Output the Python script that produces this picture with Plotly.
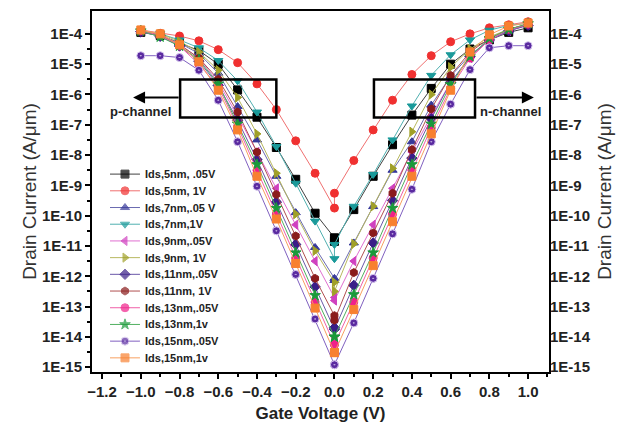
import plotly.graph_objects as go

# Gate voltage: negative sweep (-1.0 .. 0.0) then positive sweep (0.0 .. 1.0)
vg = [-1.0, -0.9, -0.8, -0.7, -0.6, -0.5, -0.4, -0.3, -0.2, -0.1, 0.0,
      0.0, 0.1, 0.2, 0.3, 0.4, 0.5, 0.6, 0.7, 0.8, 0.9, 1.0]

# log10 of drain current (A/um)
ids_5nm_005 = [-3.95, -4.05, -4.3, -4.55, -5.0, -5.85, -6.75, -7.75, -8.8, -9.92, -10.73,
               -10.85, -9.8, -8.7, -7.66, -6.68, -5.8, -5.0, -4.5, -4.2, -3.95, -3.8]
ids_5nm_1 = [-3.87, -3.98, -4.07, -4.23, -4.52, -4.95, -5.65, -6.5, -7.53, -8.6, -9.75,
             -9.26, -8.18, -7.17, -6.19, -5.34, -4.72, -4.26, -4.0, -3.8, -3.7, -3.6]
ids_7nm_005 = [-3.92, -4.05, -4.3, -4.65, -5.3, -6.4, -7.5, -8.7, -9.9, -11.05, -12.07,
               -12.14, -10.9, -9.7, -8.5, -7.56, -6.35, -5.4, -4.7, -4.2, -3.9, -3.7]
ids_7nm_1 = [-3.9, -4.0, -4.2, -4.46, -4.88, -5.55, -6.58, -7.72, -8.93, -10.18, -11.42,
             -10.95, -9.69, -8.64, -7.5, -6.38, -5.37, -4.69, -4.2, -3.88, -3.72, -3.65]
ids_9nm_005 = [-3.92, -4.05, -4.35, -4.8, -5.6, -6.7, -7.9, -9.1, -10.3, -11.5, -12.7,
               -12.8, -11.5, -10.3, -9.1, -7.9, -6.7, -5.6, -4.8, -4.2, -3.9, -3.7]
ids_9nm_1 = [-3.9, -4.0, -4.25, -4.6, -5.2, -6.1, -7.3, -8.6, -9.95, -11.16, -12.2,
             -12.5, -10.93, -9.69, -8.44, -7.23, -6.0, -5.1, -4.5, -4.1, -3.85, -3.68]
ids_11nm_005 = [-3.93, -4.08, -4.4, -4.9, -5.7, -6.85, -8.15, -9.55, -10.95, -12.35, -13.7,
                -13.75, -12.3, -10.9, -9.5, -8.1, -6.8, -5.6, -4.75, -4.2, -3.9, -3.72]
ids_11nm_1 = [-3.9, -4.05, -4.35, -4.8, -5.5, -6.58, -7.9, -9.3, -10.67, -12.07, -13.3,
              -13.45, -11.88, -10.57, -9.26, -7.82, -6.48, -5.37, -4.6, -4.15, -3.85, -3.68]
ids_13nm_005 = [-3.9, -4.05, -4.4, -5.0, -5.75, -7.05, -8.5, -9.95, -11.4, -12.85, -14.25,
                -14.25, -12.85, -11.4, -9.95, -8.5, -7.1, -5.8, -4.8, -4.2, -3.85, -3.68]
ids_13nm_1 = [-3.9, -4.1, -4.4, -4.85, -5.65, -6.97, -8.31, -9.75, -11.22, -12.63, -14.0,
              -14.0, -12.6, -11.22, -9.75, -8.31, -6.97, -5.67, -4.75, -4.15, -3.85, -3.66]
ids_15nm_005 = [-4.72, -4.72, -4.78, -5.2, -6.19, -7.56, -9.03, -10.5, -11.94, -13.41, -14.92,
                -14.92, -13.54, -12.07, -10.6, -9.13, -7.56, -6.32, -5.18, -4.46, -4.39, -4.39]
ids_15nm_1 = [-3.87, -4.0, -4.36, -4.92, -5.86, -7.17, -8.7, -10.11, -11.58, -13.05, -14.52,
              -14.52, -13.1, -11.65, -10.2, -8.7, -7.3, -5.86, -4.6, -4.03, -3.74, -3.64]

series_names = ["Ids,5nm, .05V", "Ids,5nm, 1V", "Ids,7nm,.05 V", "Ids,7nm,1V",
                "Ids,9nm,.05V", "Ids,9nm, 1V", "Ids,11nm,.05V", "Ids,11nm, 1V",
                "Ids,13nm,.05V", "Ids,13nm,1v", "Ids,15nm,.05V", "Ids,15nm,1v"]
series_logs = [ids_5nm_005, ids_5nm_1, ids_7nm_005, ids_7nm_1, ids_9nm_005, ids_9nm_1,
               ids_11nm_005, ids_11nm_1, ids_13nm_005, ids_13nm_1, ids_15nm_005, ids_15nm_1]

ytick_vals = [1e-4, 1e-5, 1e-6, 1e-7, 1e-8, 1e-9, 1e-10, 1e-11, 1e-12, 1e-13, 1e-14, 1e-15]
ytick_text = ["1E-4", "1E-5", "1E-6", "1E-7", "1E-8", "1E-9", "1E-10", "1E-11",
              "1E-12", "1E-13", "1E-14", "1E-15"]

marker_colors = ["#000000", "#f03030", "#36389a", "#1a9a9a", "#d040c0", "#a0a028",
                 "#3a1e88", "#8a1c1c", "#f0208a", "#1a9a3a", "#5a2aa0", "#f88030"]
line_colors = ["#404040", "#f07070", "#6a6ab0", "#50b0b0", "#e070d0", "#b8b860",
               "#6a58a8", "#b05050", "#f060a8", "#50b060", "#8060c0", "#f8a060"]
symbols = ["square", "circle", "triangle-up", "triangle-down", "triangle-left",
           "triangle-right", "diamond", "hexagon", "circle", "star", "circle-dot", "square"]

FONT = "Arial, Liberation Sans, sans-serif"


def marker_style(sym, mc, size):
    return dict(symbol=sym, size=size, color=mc,
                line=dict(color="#d8c8f0" if sym == "circle-dot" else mc, width=1))


fig = go.Figure()
for name, logs, mc, lc, sym in zip(series_names, series_logs, marker_colors, line_colors, symbols):
    fig.add_trace(go.Scatter(
        x=vg, y=[10 ** v for v in logs], name=name, mode="lines+markers",
        line=dict(color=lc, width=1), marker=marker_style(sym, mc, 8), showlegend=False,
    ))

# invisible copy for right-hand axis
fig.add_trace(go.Scatter(x=vg, y=[10 ** v for v in ids_5nm_1], yaxis="y2",
                         mode="lines", line=dict(width=0), showlegend=False,
                         hoverinfo="skip", opacity=0))

# compact legend (plotly's own legend rows are too tall for this figure)
for i, (name, mc, lc, sym) in enumerate(zip(series_names, marker_colors, line_colors, symbols)):
    fig.add_trace(go.Scatter(
        x=[0, 0.5, 1], y=[i, i, i], xaxis="x3", yaxis="y3", mode="lines+markers",
        line=dict(color=lc, width=1),
        marker=dict(symbol=sym, size=[0, 8, 0], color=mc,
                    line=dict(color="#d8c8f0" if sym == "circle-dot" else mc, width=1)),
        showlegend=False, hoverinfo="skip"))
    fig.add_annotation(x=0.1116, y=i, xref="paper", yref="y3", text=name, showarrow=False,
                       xanchor="left", yanchor="middle",
                       font=dict(family=FONT, size=11, color="#222222", weight="bold"))

minor_vals = [v * 10 ** -0.5 for v in ytick_vals[:-1]]

yrange = [-15.16, -3.245]
fig.update_layout(
    width=629, height=432,
    margin=dict(l=92, r=80, t=9, b=60),
    paper_bgcolor="white", plot_bgcolor="white",
    font=dict(family=FONT, color="#222222"),
    showlegend=False,
    xaxis=dict(range=[-1.252, 1.108], dtick=0.2, tick0=0, tickformat=".1f",
               showline=True, linecolor="black", linewidth=2, mirror=True,
               ticks="outside", ticklen=5, tickwidth=1.5, tickcolor="black",
               minor=dict(ticks="outside", ticklen=3, dtick=0.1, tickcolor="black"),
               showgrid=False, zeroline=False,
               tickfont=dict(family=FONT, size=15, color="#222222", weight="bold"),
               title=dict(text="Gate Voltage (V)", standoff=8,
                          font=dict(family=FONT, size=17, color="#222222", weight="bold"))),
    yaxis=dict(type="log", range=yrange, tickvals=ytick_vals, ticktext=ytick_text,
               showline=True, linecolor="black", linewidth=2, mirror=True,
               ticks="outside", ticklen=5, tickwidth=1.5, tickcolor="black",
               minor=dict(ticks="outside", ticklen=3, tickvals=minor_vals, tickcolor="black"),
               showgrid=False, zeroline=False,
               tickfont=dict(family=FONT, size=15, color="#222222", weight="bold"),
               title=dict(text="Drain Current (A/μm)", standoff=0,
                          font=dict(family=FONT, size=19, color="#333333"))),
    yaxis2=dict(type="log", range=yrange, tickvals=ytick_vals, ticktext=ytick_text,
                overlaying="y", side="right", showline=False, ticks="",
                showgrid=False, zeroline=False,
                tickfont=dict(family=FONT, size=15, color="#222222", weight="bold"),
                title=dict(text="Drain Current (A/μm)", standoff=8,
                           font=dict(family=FONT, size=19, color="#333333"))),
    xaxis3=dict(domain=[0.0394, 0.1050], range=[0, 1], visible=False, anchor="y3"),
    yaxis3=dict(domain=[0.01653, 0.5702], range=[11.49, -0.476], visible=False, anchor="x3"),
)

# boxes marking p- and n-channel regions
for x0, x1 in [(-0.797, -0.30), (0.204, 0.726)]:
    fig.add_shape(type="rect", xref="x", yref="y", x0=x0, x1=x1,
                  y0=10 ** -5.51, y1=10 ** -6.76, line=dict(color="black", width=2.5))

# arrows
fig.add_annotation(x=-1.04, y=-6.10, ax=-0.797, ay=-6.10, xref="x", yref="y",
                   axref="x", ayref="y", showarrow=True, arrowhead=2, arrowsize=1.2,
                   arrowwidth=2, arrowcolor="black", text="")
fig.add_annotation(x=1.03, y=-6.10, ax=0.726, ay=-6.10, xref="x", yref="y",
                   axref="x", ayref="y", showarrow=True, arrowhead=2, arrowsize=1.2,
                   arrowwidth=2, arrowcolor="black", text="")
fig.add_annotation(x=-1.0, y=-6.56, xref="x", yref="y", text="p-channel", showarrow=False,
                   font=dict(family=FONT, size=13, color="#222222", weight="bold"))
fig.add_annotation(x=0.91, y=-6.56, xref="x", yref="y", text="n-channel", showarrow=False,
                   font=dict(family=FONT, size=13, color="#222222", weight="bold"))

fig.write_html("out.html")
